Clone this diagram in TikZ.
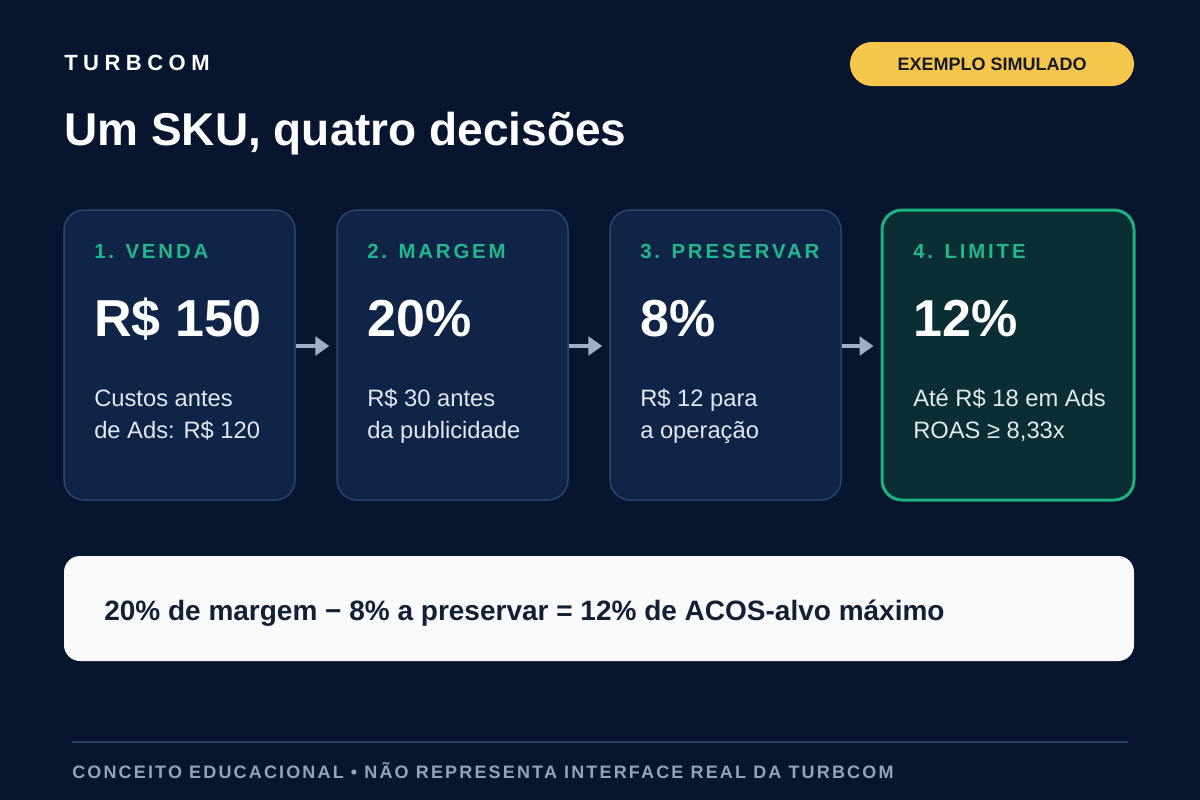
\documentclass[tikz,border=0pt]{standalone}
\usepackage{fontspec}
\setmainfont{Liberation Sans}
\newfontfamily\brandfont[LetterSpace=25]{Liberation Sans}
\newfontfamily\labelfont[LetterSpace=14]{Liberation Sans}
\newfontfamily\footfont[LetterSpace=12]{Liberation Sans}
\usetikzlibrary{arrows.meta}
\definecolor{bg}{RGB}{8,21,46}
\definecolor{cardfill}{RGB}{16,36,72}
\definecolor{cardline}{RGB}{42,68,106}
\definecolor{limfill}{RGB}{11,46,52}
\definecolor{limline}{RGB}{28,178,128}
\definecolor{green}{RGB}{32,184,138}
\definecolor{arrowc}{RGB}{160,174,200}
\definecolor{badgec}{RGB}{245,197,76}
\definecolor{badgetext}{RGB}{22,26,38}
\definecolor{boxfill}{RGB}{248,250,252}
\definecolor{boxtext}{RGB}{20,30,52}
\definecolor{footline}{RGB}{42,66,98}
\definecolor{foottext}{RGB}{148,163,188}
\definecolor{desc}{RGB}{226,232,240}
\tikzset{
  card/.style={draw=cardline, fill=cardfill, line width=1.125pt, rounded corners=15pt,
    minimum width=173.25pt, minimum height=217.5pt, inner sep=0pt},
  limcard/.style={draw=limline, fill=limfill, line width=2.25pt, rounded corners=15pt,
    minimum width=189pt, minimum height=217.5pt, inner sep=0pt},
  lbl/.style={anchor=base west, inner sep=0pt, text=green,
    font=\labelfont\bfseries\fontsize{15.3}{18}\selectfont},
  num/.style={anchor=base west, inner sep=0pt, text=white,
    font=\bfseries\fontsize{39}{46}\selectfont},
  dsc/.style={anchor=base west, inner sep=0pt, text=desc,
    font=\fontsize{17.8}{22}\selectfont},
  arr/.style={draw=arrowc, line width=2.6pt, -{Triangle[length=10.5pt,width=14pt]}, shorten >=5.25pt},
}
\begin{document}
\begin{tikzpicture}[x=0.75pt,y=-0.75pt]
\useasboundingbox (0,0) rectangle (1200,800);
\fill[bg] (0,0) rectangle (1200,800);

% header
\node[anchor=base west, inner sep=0pt, text=white, font=\brandfont\bfseries\fontsize{16.5}{20}\selectfont] (brand) at (64,70) {TURBCOM};
\node[anchor=base west, inner sep=0pt, text=white, font=\bfseries\fontsize{34.5}{41}\selectfont] (title) at (64,145) {Um SKU, quatro decisões};
\node[fill=badgec, rounded corners=16.5pt, minimum width=213pt, minimum height=33pt, inner sep=0pt,
  text=badgetext, font=\bfseries\fontsize{13.5}{16}\selectfont] (badge) at (992,64) {EXEMPLO SIMULADO};

% cards
\node[card] (c1) at (179.5,355) {};
\node[card] (c2) at (452.5,355) {};
\node[card] (c3) at (725.5,355) {};
\node[limcard] (c4) at (1008,355) {};

\coordinate (ar) at (0,346);
\draw[arr] (c1.east |- ar) -- (c2.west |- ar);
\draw[arr] (c2.east |- ar) -- (c3.west |- ar);
\draw[arr] (c3.east |- ar) -- (c4.west |- ar);

\node[lbl] (l1) at (94,258) {1. VENDA};
\node[num] (n1) at (94,336) {R\$ 150};
\node[dsc] (d1a) at (94,406) {Custos antes};
\node[dsc] (d1b) at (94,438) {de Ads: R\$ 120};

\node[lbl] (l2) at (367,258) {2. MARGEM};
\node[num] (n2) at (367,336) {20\%};
\node[dsc] (d2a) at (367,406) {R\$ 30 antes};
\node[dsc] (d2b) at (367,438) {da publicidade};

\node[lbl] (l3) at (640,258) {3. PRESERVAR};
\node[num] (n3) at (640,336) {8\%};
\node[dsc] (d3a) at (640,406) {R\$ 12 para};
\node[dsc] (d3b) at (640,438) {a operação};

\node[lbl] (l4) at (913,258) {4. LIMITE};
\node[num] (n4) at (913,336) {12\%};
\node[dsc] (d4a) at (913,406) {Até R\$ 18 em Ads};
\node[dsc] (d4b) at (913,438) {ROAS ≥ 8,33x};

% summary box
\node[fill=boxfill, rounded corners=12pt, minimum width=802.5pt, minimum height=78.75pt, inner sep=0pt] (sum) at (599,608.5) {};
\node[anchor=base west, inner sep=0pt, text=boxtext, font=\bfseries\fontsize{21}{25}\selectfont] (sumtext) at (104,620) {20\% de margem − 8\% a preservar = 12\% de ACOS-alvo máximo};

% footer
\coordinate (fl) at (72,742);
\coordinate (fr) at (1128,742);
\draw[footline, line width=1.5pt] (fl) -- (fr);
\node[anchor=base west, inner sep=0pt, text=foottext, font=\footfont\bfseries\fontsize{13.5}{16}\selectfont] (foot) at (72,778) {CONCEITO EDUCACIONAL • NÃO REPRESENTA INTERFACE REAL DA TURBCOM};
\end{tikzpicture}
\end{document}
